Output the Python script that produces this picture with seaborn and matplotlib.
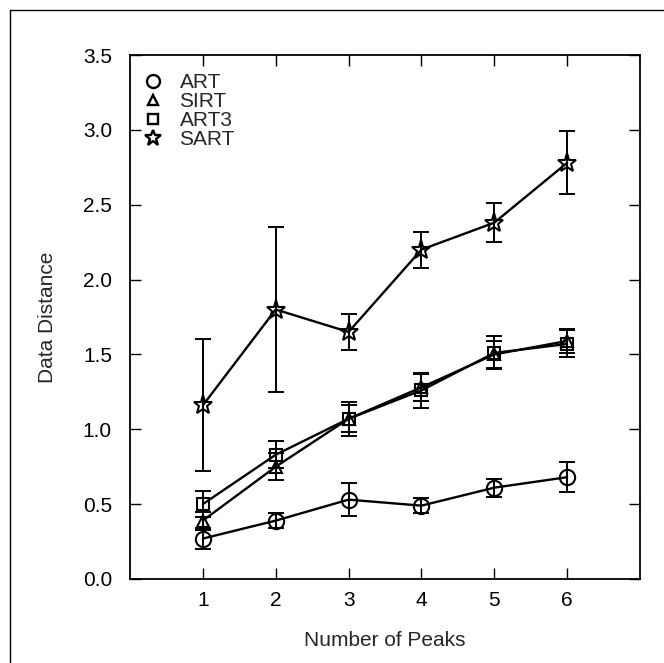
import matplotlib
matplotlib.use("Agg")
import matplotlib.pyplot as plt
from matplotlib.lines import Line2D
import numpy as np
import pandas as pd
import seaborn as sns

# Reconstruction methods compared on simulated peak data
peaks = [1, 2, 3, 4, 5, 6]
methods = ["ART", "SIRT", "ART3", "SART"]

art_mean = [0.27, 0.39, 0.53, 0.49, 0.61, 0.68]
art_err = [0.07, 0.05, 0.11, 0.05, 0.06, 0.10]

sirt_mean = [0.39, 0.75, 1.07, 1.28, 1.50, 1.59]
sirt_err = [0.06, 0.09, 0.09, 0.09, 0.09, 0.08]

art3_mean = [0.50, 0.83, 1.07, 1.26, 1.51, 1.57]
art3_err = [0.085, 0.09, 0.115, 0.115, 0.11, 0.09]

sart_mean = [1.16, 1.80, 1.65, 2.20, 2.38, 2.78]
sart_err = [0.44, 0.55, 0.12, 0.12, 0.13, 0.21]

yticks = [0.0, 0.5, 1.0, 1.5, 2.0, 2.5, 3.0, 3.5]

means = {"ART": art_mean, "SIRT": sirt_mean, "ART3": art3_mean, "SART": sart_mean}
errs = {"ART": art_err, "SIRT": sirt_err, "ART3": art3_err, "SART": sart_err}
markers = {"ART": "o", "SIRT": "^", "ART3": "s", "SART": "*"}
msizes = {"ART": 11, "SIRT": 9, "ART3": 8.5, "SART": 14}

df = pd.DataFrame(
    [(p, m, v, e) for m in methods for p, v, e in zip(peaks, means[m], errs[m])],
    columns=["peaks", "method", "distance", "err"],
)

sns.set_style("ticks")
plt.rcParams["font.family"] = ["Liberation Sans", "DejaVu Sans"]

fig = plt.figure(figsize=(6.64, 6.63), dpi=100)
ax = fig.add_axes([130 / 664, 1 - 579 / 663, 510 / 664, (579 - 55) / 663])

for m in methods:
    sub = df[df["method"] == m]
    ax.errorbar(sub["peaks"], sub["distance"], yerr=sub["err"], fmt="none",
                ecolor="black", elinewidth=1.4, capsize=6, capthick=1.4, zorder=2)
    sns.lineplot(data=sub, x="peaks", y="distance", ax=ax, color="black",
                 linewidth=1.7, marker=markers[m], markersize=msizes[m],
                 markerfacecolor="none", markeredgecolor="black",
                 markeredgewidth=1.5, legend=False, zorder=3)

ax.set_xlim(0, 7)
ax.set_ylim(0, 3.5)
ax.set_xticks(peaks)
ax.set_yticks(yticks)
ax.set_yticklabels([f"{t:.1f}" for t in yticks])
ax.tick_params(direction="in", length=8, width=1.0, top=True, right=True,
               labelsize=15, colors="black")
ax.tick_params(axis="x", pad=9)
ax.tick_params(axis="y", pad=13)
for s in ax.spines.values():
    s.set_visible(True)
    s.set_linewidth(1.3)
    s.set_color("black")

ax.set_xlabel("Number of Peaks", fontsize=15)
ax.set_ylabel("Data Distance", fontsize=15)
ax.xaxis.set_label_coords(0.5, -(631 - 579) / 524)
ax.yaxis.set_label_coords(-(130 - 57) / 510, 0.5)

handles = [Line2D([], [], linestyle="none", marker=markers[m],
                  markersize=msizes[m] * 0.85, markerfacecolor="none",
                  markeredgecolor="black", markeredgewidth=1.7)
           for m in methods]
ax.legend(handles, methods, loc="upper left", bbox_to_anchor=(0.0255, 0.965),
          frameon=False, borderpad=0, borderaxespad=0, handlelength=1.0,
          handletextpad=0.75, labelspacing=0.0, fontsize=15)

# outer frame around the figure
fig.add_artist(Line2D([0.015, 0.015], [0.0, 0.985], transform=fig.transFigure,
                      color="black", linewidth=1.0))
fig.add_artist(Line2D([0.015, 1.0], [0.985, 0.985], transform=fig.transFigure,
                      color="black", linewidth=1.0))

fig.savefig("out.png", dpi=100)
